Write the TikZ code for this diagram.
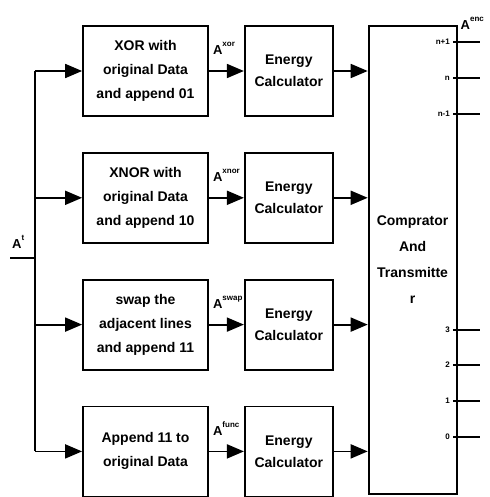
\documentclass[tikz,border=0pt]{standalone}
\usepackage{fontspec}
\setmainfont{Liberation Sans}
\usetikzlibrary{positioning,arrows.meta}

\newcommand{\siglab}[1]{A\raisebox{8pt}{\fontsize{8}{8}\selectfont #1}}

\begin{document}
\begin{tikzpicture}[
    x=1pt, y=1pt,
    node distance=35pt and 35pt,
    box/.style={rectangle, draw, line width=1.8pt, align=center, fill=white, font=\fontsize{14}{24}\selectfont\bfseries},
    opbox/.style={box, minimum width=125pt, minimum height=90pt},
    enbox/.style={box, minimum width=88pt, minimum height=90pt, font=\fontsize{14}{22}\selectfont\bfseries},
    cmpbox/.style={box, minimum width=88pt, minimum height=468pt, font=\fontsize{14}{26}\selectfont\bfseries},
    arrow/.style={-{Triangle[length=17pt,width=14pt]}, line width=1.8pt},
    wire/.style={line width=1.8pt},
    sig/.style={font=\fontsize{13}{13}\selectfont\bfseries, inner sep=0pt},
    pinlab/.style={font=\fontsize{8}{8}\selectfont\bfseries, inner sep=3pt}
]
\useasboundingbox (0,0) rectangle (489,-497);
% transform blocks
\node[opbox] (xor) at (145.5,-71) {XOR with\\ original Data\\ and append 01};
\node[opbox, below=of xor] (xnor) {XNOR with\\ original Data\\ and append 10};
\node[opbox, below=of xnor] (swap) {swap the\\ adjacent lines\\ and append 11};
\node[opbox, below=of swap] (app) {Append 11 to\\ original Data};
% energy blocks
\node[enbox, right=of xor] (e1) {Energy\\ Calculator};
\node[enbox, right=of xnor] (e2) {Energy\\ Calculator};
\node[enbox, right=of swap] (e3) {Energy\\ Calculator};
\node[enbox, right=of app] (e4) {Energy\\ Calculator};
\node[cmpbox, anchor=north west] (cmp) at ([xshift=34pt]e1.north east) {Comprator\\ And\\ Transmitte\\ r};
% input bus
\coordinate (in) at (10,-258);
\coordinate (bus) at (35,-258);
\node[sig, anchor=south west] (at) at ([xshift=2pt,yshift=9pt]in) {\siglab{t}};
\draw[wire] (in) -- (bus);
\draw[wire] (bus |- xor) -- (bus |- app);
\foreach \b/\e/\s in {xor/e1/xor, xnor/e2/xnor, swap/e3/swap, app/e4/func} {
    \draw[arrow] (bus |- \b) -- (\b.west);
    \draw[arrow] (\b.east) -- (\e.west);
    \draw[arrow] (\e.east) -- (\e.east -| cmp.west);
    \node[sig, anchor=south west] at ([xshift=4pt,yshift=16pt]\b.east) {\siglab{\s}};
}
% outputs
\node[sig, anchor=south west] (aenc) at ([xshift=3pt,yshift=-5pt]cmp.north east) {\siglab{enc}};
\foreach \y/\l in {42/n+1, 78/n, 114/n-1, 330/3, 365/2, 401/1, 437/0} {
    \coordinate (p) at (453,-\y);
    \draw[wire] (p) -- ++(27,0);
    \node[pinlab, anchor=east] at (p) {\l};
}
\end{tikzpicture}
\end{document}
